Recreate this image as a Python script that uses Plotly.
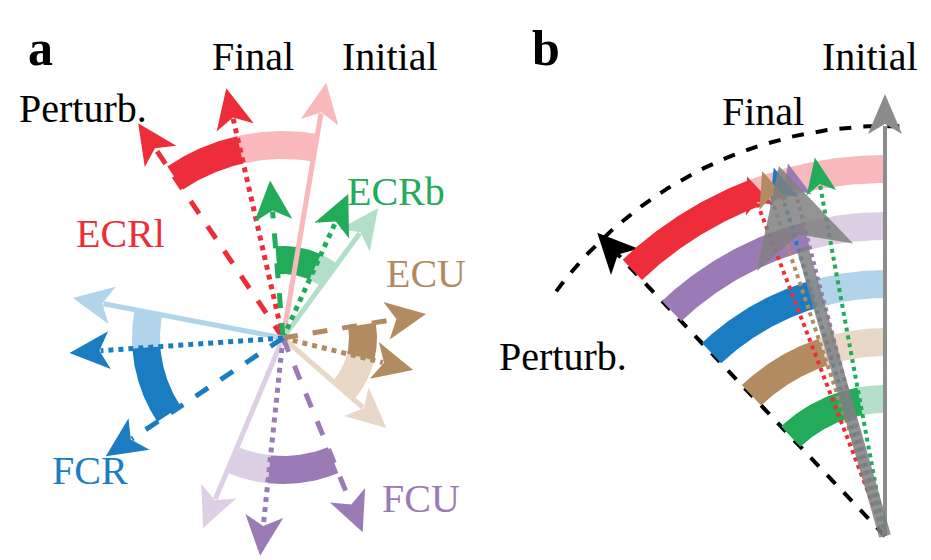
import numpy as np
import plotly.graph_objects as go

# ---- panel a data (angles in degrees, counter-clockwise from +x; lengths in px) ----
muscles = ["ECRl", "ECRb", "ECU", "FCU", "FCR"]
dark = ["#ee2d3a", "#22ab58", "#b38b60", "#9a7bb6", "#1a7cc1"]
light = ["#f8b8bc", "#b3dfc9", "#e8d8c8", "#ddd0e4", "#b2d4ea"]
ang_init = [80.4, 53.8, -41.0, -112.8, 169.2]
ang_final = [102.8, 65.6, -13.8, -96.0, 184.0]
ang_pert = [124.0, 94.7, 9.5, -67.7, 213.7]
len_init = [259, 161, 137, 206, 214]
len_final = [256, 158, 134, 219, 214]
len_pert = [259, 158, 145, 210, 213]
arc_r = [193, 78, 80, 132, 137]
label_xy = [(112, 225), (388, 183), (418, 265), (82, 462), (413, 490)]
label_order = ["ECRl", "ECRb", "ECU", "FCR", "FCU"]

# ---- panel b data ----
b_order = ["ECRl", "FCU", "FCR", "ECU", "ECRb"]
b_radius = [367, 310, 252, 194, 137]
b_final = [111.0, 104.6, 106.8, 108.6, 100.5]
b_init, b_pert, b_mean_final = 90.0, 133.5, 106.0

H = 560
CA = (275, H - 330)
CB = (877, H - 528)

fig = go.Figure()

def pt(c, a, r):
    t = np.radians(a)
    return c[0] + r * np.cos(t), c[1] + r * np.sin(t)

def band(c, r, w, a0, a1, col, op=1.0):
    ts = np.linspace(a0, a1, 60)
    xo, yo = zip(*[pt(c, t, r + w / 2) for t in ts])
    xi, yi = zip(*[pt(c, t, r - w / 2) for t in ts[::-1]])
    fig.add_trace(go.Scatter(x=list(xo) + list(xi), y=list(yo) + list(yi), fill="toself",
                             fillcolor=col, line=dict(width=0), mode="lines",
                             opacity=op, hoverinfo="skip"))

def head(c, a, r, col, L=40, W=19, op=1.0):
    tx, ty = pt(c, a, r)
    t = np.radians(a)
    ux, uy = np.cos(t), np.sin(t)
    px, py = -uy, ux
    bx, by = tx - L * ux, ty - L * uy
    nx, ny = tx - 0.75 * L * ux, ty - 0.75 * L * uy
    xs = [tx, bx + W * px, nx, bx - W * px, tx]
    ys = [ty, by + W * py, ny, by - W * py, ty]
    fig.add_trace(go.Scatter(x=xs, y=ys, fill="toself", fillcolor=col, line=dict(width=0),
                             mode="lines", opacity=op, hoverinfo="skip"))

def arrow(c, a, r, col, dash, w=5, op=1.0, L=40, W=19):
    x1, y1 = pt(c, a, r - 0.78 * L)
    fig.add_trace(go.Scatter(x=[c[0], x1], y=[c[1], y1], mode="lines",
                             line=dict(color=col, width=w, dash=dash), opacity=op,
                             hoverinfo="skip"))
    head(c, a, r, col, L, W, op)

# panel a arcs
for i in range(5):
    band(CA, arc_r[i], 28, ang_init[i], ang_final[i], light[i])
    band(CA, arc_r[i], 28, ang_final[i], ang_pert[i], dark[i])
# panel a vectors
for i in range(5):
    arrow(CA, ang_init[i], len_init[i], light[i], "solid", 5)
    arrow(CA, ang_final[i], len_final[i], dark[i], "dot", 5)
    arrow(CA, ang_pert[i], len_pert[i], dark[i], "dash", 5)

# panel b
ts = np.linspace(88, 145, 80)
xs, ys = zip(*[pt(CB, t, 410) for t in ts])
fig.add_trace(go.Scatter(x=xs, y=ys, mode="lines", line=dict(color="black", width=4, dash="dash"),
                         hoverinfo="skip"))
x1, y1 = pt(CB, b_pert, 390)
fig.add_trace(go.Scatter(x=[CB[0], x1], y=[CB[1], y1], mode="lines",
                         line=dict(color="black", width=4, dash="dash"), hoverinfo="skip"))
head(CB, b_pert, 418, "black", 40, 19)
for i, m in enumerate(b_order):
    k = muscles.index(m)
    band(CB, b_radius[i], 28, b_init, b_final[i], light[k])
    band(CB, b_radius[i], 28, b_final[i], b_pert, dark[k])
fig.add_trace(go.Scatter(x=[CB[0], CB[0]], y=[CB[1], CB[1] + 410], mode="lines",
                         line=dict(color="#8c8c8c", width=4), hoverinfo="skip"))
head(CB, b_init, 442, "#8c8c8c", 40, 17)
for i, m in enumerate(b_order):
    k = muscles.index(m)
    arrow(CB, b_final[i], 385, dark[k], "dot", 4, L=36, W=15)
x1, y1 = pt(CB, b_mean_final, 300)
fig.add_trace(go.Scatter(x=[CB[0], x1], y=[CB[1], y1], mode="lines",
                         line=dict(color="#808080", width=12), opacity=0.85, hoverinfo="skip"))
head(CB, b_mean_final, 385, "#808080", 95, 50, op=0.85)

# texts
def txt(x, y, s, col="black", size=40, bold=False, xa="center"):
    fig.add_annotation(x=x, y=H - y, text=f"<b>{s}</b>" if bold else s, showarrow=False,
                       xanchor=xa, font=dict(family="Liberation Serif", size=size, color=col))

txt(32, 40, "a", size=50, bold=True)
txt(538, 40, "b", size=50, bold=True)
txt(245, 48, "Final"); txt(382, 48, "Initial"); txt(75, 100, "Perturb.")
for m, (x, y) in zip(label_order, label_xy):
    txt(x, y, m, dark[muscles.index(m)])
txt(912, 48, "Initial", xa="right"); txt(755, 103, "Final"); txt(555, 348, "Perturb.")

fig.update_layout(width=931, height=560, margin=dict(l=0, r=0, t=0, b=0),
                  plot_bgcolor="white", paper_bgcolor="white", showlegend=False,
                  xaxis=dict(range=[0, 931], visible=False, fixedrange=True),
                  yaxis=dict(range=[0, 560], visible=False, fixedrange=True,
                             scaleanchor="x", scaleratio=1))
fig.write_html("out.html")
